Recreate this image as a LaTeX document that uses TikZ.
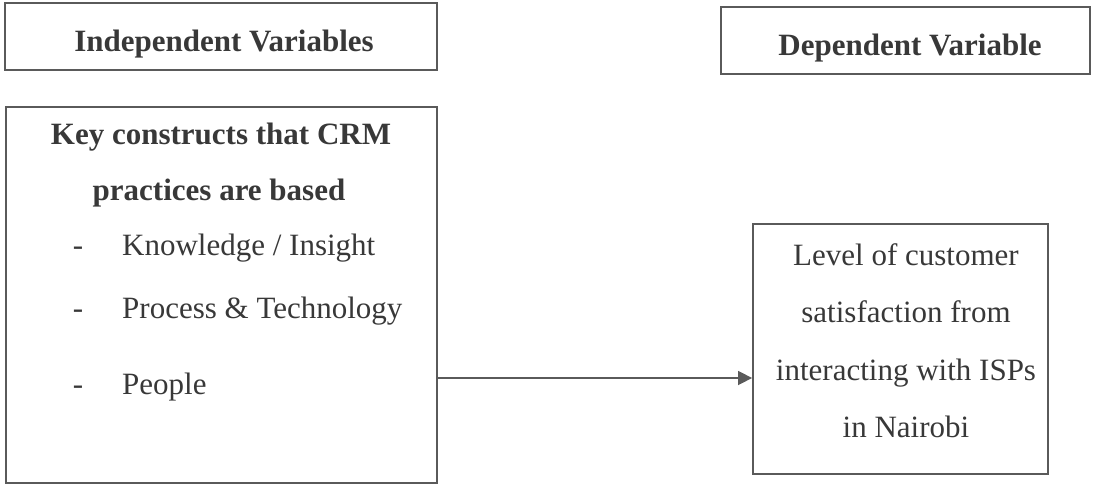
\documentclass[tikz,border=0pt]{standalone}
\usepackage{fontspec}
\setmainfont{Liberation Serif}
\usetikzlibrary{arrows.meta}
\definecolor{ink}{HTML}{383838}
\definecolor{edge}{HTML}{5A5A5A}
\tikzset{
  box/.style={draw=edge, line width=1.8pt, rectangle, inner sep=0pt},
  txt/.style={font=\fontsize{31}{31}\selectfont, text=ink, anchor=base, inner sep=0pt},
  btxt/.style={font=\fontsize{31}{31}\selectfont\bfseries, text=ink, anchor=base, inner sep=0pt},
  conn/.style={draw=edge, line width=1.5pt, -{Triangle[length=14pt,width=14pt]}}
}
\begin{document}
\begin{tikzpicture}[x=1pt,y=-1pt]
\useasboundingbox (0,0) rectangle (1093,485);
% header boxes
\node[box, minimum width=432pt, minimum height=67pt] (indep) at (221,36.5) {};
\node[btxt] (indept) at (224,51) {Independent Variables};
\node[box, minimum width=369pt, minimum height=67pt] (dep) at (905.5,40.5) {};
\node[btxt] (dept) at (910,55) {Dependent Variable};
% left box
\node[box, minimum width=431pt, minimum height=376pt] (left) at (221.5,295) {};
\node[btxt] (l1) at (221,144) {Key constructs that CRM};
\node[btxt] (l2) at (219,200) {practices are based};
\node[txt] (d1) at (78,255) {-};
\node[txt, anchor=base west] (t1) at (122,255) {Knowledge / Insight};
\node[txt] (d2) at (78,318) {-};
\node[txt, anchor=base west] (t2) at (122,318) {Process \& Technology};
\node[txt] (d3) at (78,394) {-};
\node[txt, anchor=base west] (t3) at (122,394) {People};
% right box
\node[box, minimum width=295pt, minimum height=250pt] (right) at (900.5,349) {};
\node[txt] (r1) at (906,265) {Level of customer};
\node[txt] (r2) at (906,322) {satisfaction from};
\node[txt] (r3) at (906,380) {interacting with ISPs};
\node[txt] (r4) at (906,437) {in Nairobi};
% connector
\coordinate (ay) at (0,378);
\draw[conn] (left.east |- ay) -- (right.west |- ay);
\end{tikzpicture}
\end{document}
